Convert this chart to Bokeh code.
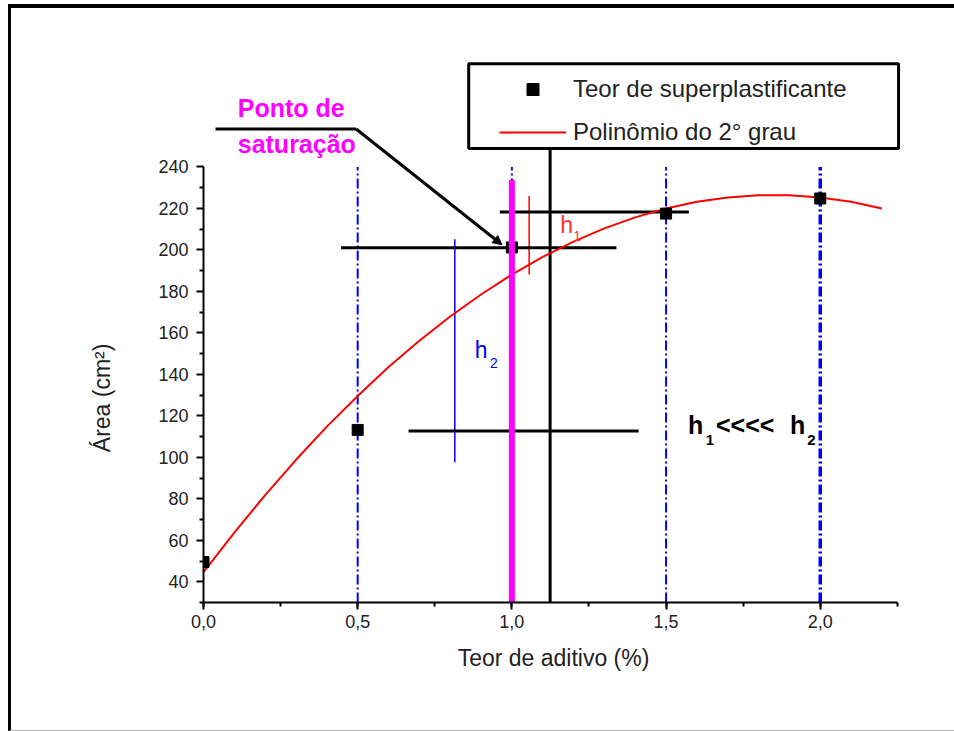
from bokeh.plotting import figure
from bokeh.models import (Range1d, FixedTicker, Legend, LegendItem, Arrow,
                          NormalHead, CustomJSTickFormatter)
from bokeh.embed import file_html
from bokeh.resources import INLINE
from bokeh.core.properties import value

# ---- data ----
teor = [0.0, 0.5, 1.0, 1.5, 2.0]
area = [49.5, 113.2, 201.2, 217.5, 224.8]

curve_x = [0.0, 0.1, 0.2, 0.3, 0.4, 0.5, 0.6, 0.7, 0.8, 0.9, 1.0, 1.1,
           1.2, 1.3, 1.4, 1.5, 1.6, 1.7, 1.8, 1.9, 2.0, 2.1, 2.2]
curve_y = [44.6, 63.7, 81.8, 98.8, 114.8, 129.6, 143.5, 156.2, 167.9, 178.5,
           188.1, 196.6, 204.0, 210.4, 215.7, 220.0, 223.2, 225.3, 226.4,
           226.4, 225.3, 223.2, 220.0]

guide_x = [0.5, 1.0, 1.5, 2.0]
saturation_x = 1.0
saturation_top = 233.7

hline_y = [201.0, 218.3, 112.7]
hline_x0 = [0.446, 0.961, 0.665]
hline_x1 = [1.339, 1.574, 1.411]

h1_x, h1_y0, h1_y1 = 1.056, 188.1, 226.0
h2_x, h2_y0, h2_y1 = 0.815, 97.6, 205.1
cross_x, cross_top = 1.124, 248.9

x_ticks = [0.0, 0.5, 1.0, 1.5, 2.0]
x_tick_labels = ["0,0", "0,5", "1,0", "1,5", "2,0"]
x_minor = [0.0, 0.25, 0.5, 0.75, 1.0, 1.25, 1.5, 1.75, 2.0, 2.25]
y_ticks = [40, 60, 80, 100, 120, 140, 160, 180, 200, 220, 240]
y_minor = [30, 50, 70, 90, 110, 130, 150, 170, 190, 210, 230]

FONT = "Liberation Sans"

p = figure(width=946, height=727, output_backend="svg", toolbar_location=None,
           x_range=Range1d(0, 2.27), y_range=Range1d(30, 300),
           min_border_left=192, min_border_right=54, min_border_top=34,
           min_border_bottom=133,
           styles={"border-top": "4px solid black",
                   "border-left": "3px solid black",
                   "border-bottom": "1px solid #b4b4b4",
                   "margin-top": "4px", "margin-left": "8px"})
p.outline_line_color = None
p.grid.visible = False
p.background_fill_color = "white"
p.border_fill_color = "white"

# axes
for ax in (p.xaxis[0], p.yaxis[0]):
    ax.axis_line_width = 2
    ax.axis_line_color = "black"
    ax.major_tick_line_width = 2
    ax.minor_tick_line_width = 2
    ax.major_tick_out = 7
    ax.major_tick_in = 0
    ax.minor_tick_out = 4
    ax.minor_tick_in = 0
    ax.major_label_text_font = FONT
    ax.major_label_text_font_size = "18px"
    ax.major_label_text_color = "#222222"
    ax.axis_label_text_font = FONT
    ax.axis_label_text_font_size = "23px"
    ax.axis_label_text_font_style = "normal"
    ax.axis_label_text_color = "#222222"

p.xaxis.bounds = (0, 2.25)
p.yaxis.bounds = (30, 240)
p.xaxis.ticker = FixedTicker(ticks=x_ticks, minor_ticks=x_minor)
p.yaxis.ticker = FixedTicker(ticks=y_ticks, minor_ticks=y_minor)
p.xaxis.formatter = CustomJSTickFormatter(
    args=dict(tvals=x_ticks, tlabels=x_tick_labels),
    code="const i = tvals.findIndex(t => Math.abs(t - tick) < 1e-9); return i >= 0 ? tlabels[i] : '';")
p.xaxis.major_label_standoff = 5
p.yaxis.major_label_standoff = 8
p.xaxis.axis_label = "Teor de aditivo (%)"
p.xaxis.axis_label_standoff = 14
# trailing blank space moves the title down to the centre of the drawn axis (30..240)
p.yaxis.axis_label = "Área (cm²)" + "\u2003" * 6 + "\u00a0" * 2
p.yaxis.axis_label_standoff = 40

# blue dash-dot guides
for gx in guide_x:
    p.segment(x0=[gx], y0=[30], x1=[gx], y1=[240], line_color="#0000ff",
              line_width=3.5 if gx == 2.0 else 2, line_dash="10 3 2 3")

# h2 (blue) and h1 (red) thin lines
p.segment(x0=[h2_x], y0=[h2_y0], x1=[h2_x], y1=[h2_y1], line_color="#0000ff", line_width=1.5)
p.segment(x0=[h1_x], y0=[h1_y0], x1=[h1_x], y1=[h1_y1], line_color="#ff0000", line_width=1.5)

# horizontal black lines
p.segment(x0=hline_x0, y0=hline_y, x1=hline_x1, y1=hline_y, line_color="black", line_width=3)
# black vertical
p.segment(x0=[cross_x], y0=[30], x1=[cross_x], y1=[cross_top], line_color="black", line_width=3)

# polynomial curve
curve = p.line(curve_x, curve_y, line_color="#ff0000", line_width=2)

# data points
pts = p.scatter(teor, area, marker="square", size=11, color="black")

# saturation (magenta)
p.segment(x0=[saturation_x], y0=[30], x1=[saturation_x], y1=[saturation_top],
          line_color="#ff00ff", line_width=6)

# leader line for "Ponto de saturação"
leader_x = [0.039, 0.495]
leader_y = [258.3, 258.3]
p.line(leader_x, leader_y, line_color="black", line_width=3)
p.add_layout(Arrow(end=NormalHead(size=9, fill_color="black", line_color="black"),
                   x_start=0.495, y_start=258.3, x_end=0.968, y_end=202.5,
                   line_color="black", line_width=3))

p.text(x=[0.111, 0.111], y=[268.4, 250.9], text=["Ponto de", "saturação"],
       text_font=value(FONT), text_font_size="25px", text_font_style="bold",
       text_color="#ff00ff", text_baseline="alphabetic", text_align="left")

# h1 / h2 labels
p.text(x=[1.157], y=[212.0], text=["h"], text_font=value(FONT), text_font_size="23px",
       text_color="#ff3030", text_baseline="alphabetic")
p.text(x=[1.199], y=[206.7], text=["1"], text_font=value(FONT), text_font_size="14px",
       text_color="#ff3030", text_baseline="alphabetic")
p.text(x=[0.880], y=[151.6], text=["h"], text_font=value(FONT), text_font_size="23px",
       text_color="#0000ff", text_baseline="alphabetic")
p.text(x=[0.929], y=[145.4], text=["2"], text_font=value(FONT), text_font_size="14px",
       text_color="#0000ff", text_baseline="alphabetic")

# h1<<<< h2
p.text(x=[1.571, 1.662, 1.902], y=[115.7, 115.7, 115.7], text=["h", "<<<<", "h"],
       text_font=value(FONT), text_font_size="25px", text_font_style="bold",
       text_color="black", text_baseline="alphabetic")
p.text(x=[1.629, 1.958], y=[108.4, 108.4], text=["1", "2"],
       text_font=value(FONT), text_font_size="15px", text_font_style="bold",
       text_color="black", text_baseline="alphabetic")

# legend box + legend
p.quad(left=[0.860], right=[2.254], bottom=[248.9], top=[289.8],
       fill_color="white", line_color="black", line_width=3)
legend = Legend(items=[LegendItem(label="Teor de superplastificante", renderers=[pts]),
                       LegendItem(label="Polinômio do 2° grau", renderers=[curve])],
                location=(290, 449), padding=6, spacing=13, glyph_width=67,
                glyph_height=30, label_height=30, label_standoff=7, margin=0,
                border_line_alpha=0, background_fill_alpha=0,
                label_text_font=FONT, label_text_font_size="24px",
                label_text_color="#222222")
p.add_layout(legend)

open("out.html", "w").write(file_html(p, INLINE))
